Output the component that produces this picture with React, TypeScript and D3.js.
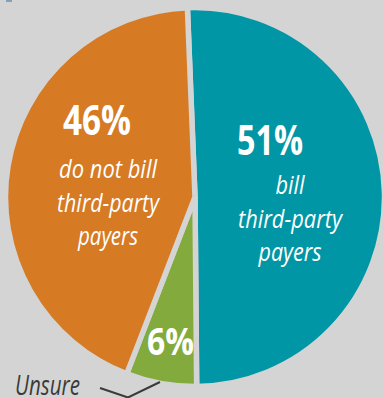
import React from "react";
import * as d3 from "d3";

const categories = ["bill third-party payers", "Unsure", "do not bill third-party payers"];
const shares = [50.5, 6, 43.5]; // arc shares
const percentLabels = ["51%", "6%", "46%"];
const descLines = [["bill", "third-party", "payers"], [], ["do not bill", "third-party", "payers"]];
const colors = ["#0096a5", "#83aa3c", "#d67a24"];

const W = 383;
const H = 398;
const BG = "#d4d4d4";
const FONT = "'Open Sans', 'Noto Sans', sans-serif";

export default function App() {
  const cx = 195;
  const cy = 197;
  const r = 189.5;
  const start = (-2.3 * Math.PI) / 180;
  const pie = d3
    .pie<number>()
    .sort(null)
    .value((d) => d)
    .startAngle(start)
    .endAngle(start + 2 * Math.PI);
  const arcs = pie(shares);
  const arc = d3.arc<d3.PieArcDatum<number>>().innerRadius(0).outerRadius(r);

  const pctPos = [
    { x: 270, y: 155, size: 42, w: 66 },
    { x: 170.5, y: 355, size: 38, w: 47 },
    { x: 97, y: 135, size: 41, w: 68 },
  ];
  const descPos = [
    { x: 290, y: 194, w: [29, 104, 63] },
    null,
    { x: 108, y: 178, w: [98, 102, 60] },
  ];
  const lineH = 33.5;

  return (
    <svg
      width={W}
      height={H}
      style={{ position: "absolute", left: 0, top: 0, display: "block" }}
    >
      <rect x={0} y={0} width={W} height={H} fill={BG} />
      <rect x={6} y={0} width={6} height={2} fill="#5d8db3" opacity={0.7} />
      <g transform={`translate(${cx},${cy})`}>
        {arcs.map((a, i) => (
          <path
            key={categories[i]}
            d={arc(a) || ""}
            fill={colors[i]}
            stroke={BG}
            strokeWidth={5.5}
            strokeLinejoin="miter"
          />
        ))}
      </g>
      {percentLabels.map((t, i) => (
        <text
          key={t}
          x={pctPos[i].x - pctPos[i].w / 2}
          y={pctPos[i].y}
          textLength={pctPos[i].w}
          lengthAdjust="spacingAndGlyphs"
          fontFamily={FONT}
          fontWeight="bold"
          fontSize={pctPos[i].size}
          fill="#ffffff"
        >
          {t}
        </text>
      ))}
      {descLines.map((lines, i) =>
        descPos[i]
          ? lines.map((l, j) => (
              <text
                key={`${i}-${j}`}
                x={descPos[i]!.x - descPos[i]!.w[j] / 2}
                y={descPos[i]!.y + j * lineH}
                textLength={descPos[i]!.w[j]}
                lengthAdjust="spacingAndGlyphs"
                fontFamily={FONT}
                fontStyle="italic"
                fontSize={25.5}
                fill="#ffffff"
              >
                {l}
              </text>
            ))
          : null
      )}
      <text
        x={15}
        y={395}
        textLength={65}
        lengthAdjust="spacingAndGlyphs"
        fontFamily={FONT}
        fontStyle="italic"
        fontSize={28}
        fill="#3a3a3a"
      >
        {categories[1]}
      </text>
      <polyline
        points="100,388 128,397.5 160,382"
        fill="none"
        stroke="#3a3a3a"
        strokeWidth={2}
      />
    </svg>
  );
}
